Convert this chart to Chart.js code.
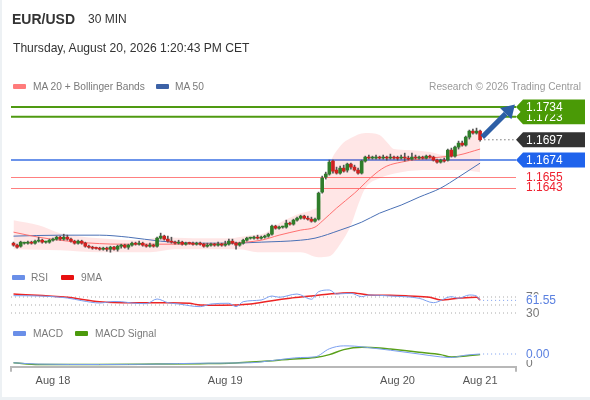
<!DOCTYPE html>
<html>
<head>
<meta charset="utf-8">
<script src="https://cdn.jsdelivr.net/npm/chart.js@4.4.1/dist/chart.umd.min.js"></script>
<style>
  body { margin: 0; background: #fff; }
  #frame { position: absolute; left: 0; top: 0; width: 588px; height: 397px; border-left: 2px solid #edf1f4; border-bottom: 3px solid #edf1f4; }
  canvas { position: absolute; left: 0; top: 0; }
  .t { position: absolute; white-space: nowrap; font-family: "Liberation Sans", Arial, sans-serif; color: #333; }
  .lg { font-size: 10.2px; line-height: 13px; color: #7a7a7a; }
  .sw { position: absolute; width: 13px; height: 5px; border-radius: 1px; }
</style>
</head>
<body>
<div id="frame"></div>
<canvas id="main" width="590" height="400"></canvas>
<canvas id="rsi" width="590" height="400"></canvas>
<canvas id="macd" width="590" height="400"></canvas>

<div class="t" style="left:12px;top:11px;font-weight:bold;font-size:14px;line-height:16px;">EUR/USD</div>
<div class="t" style="left:88px;top:12px;font-size:12px;line-height:14px;">30 MIN</div>
<div class="t" style="left:13px;top:41px;font-size:12.1px;line-height:15px;">Thursday, August 20, 2026 1:20:43 PM CET</div>

<div class="sw" style="left:13px;top:84px;background:#ff7b7b;"></div>
<div class="t lg" style="left:33px;top:80px;">MA 20 + Bollinger Bands</div>
<div class="sw" style="left:156px;top:84px;background:#3c62a6;"></div>
<div class="t lg" style="left:175px;top:80px;">MA 50</div>
<div class="t lg" style="right:9px;top:80px;color:#9a9a9a;">Research © 2026 Trading Central</div>

<div class="sw" style="left:12px;top:275px;background:#6a8fe8;"></div>
<div class="t lg" style="left:31px;top:271px;">RSI</div>
<div class="sw" style="left:61px;top:275px;background:#e81010;"></div>
<div class="t lg" style="left:81px;top:271px;">9MA</div>

<div class="sw" style="left:13px;top:331px;background:#6a8fe8;"></div>
<div class="t lg" style="left:33px;top:327px;">MACD</div>
<div class="sw" style="left:75px;top:331px;background:#4c9a0c;"></div>
<div class="t lg" style="left:95px;top:327px;">MACD Signal</div>

<script>
// 30-minute candles: [open, high, low, close]
const candles = [
  [1.15800,1.15812,1.15766,1.15778],[1.15778,1.15789,1.15744,1.15755],[1.15766,1.15823,1.15755,1.15812],
  [1.15800,1.15812,1.15789,1.15803],[1.15800,1.15823,1.15789,1.15812],[1.15812,1.15823,1.15789,1.15800],
  [1.15800,1.15834,1.15789,1.15823],[1.15823,1.15868,1.15812,1.15834],[1.15834,1.15846,1.15800,1.15812],
  [1.15812,1.15823,1.15800,1.15815],[1.15812,1.15846,1.15800,1.15834],[1.15834,1.15857,1.15823,1.15846],
  [1.15846,1.15880,1.15834,1.15868],[1.15868,1.15880,1.15834,1.15846],[1.15846,1.15902,1.15834,1.15868],
  [1.15868,1.15891,1.15834,1.15846],[1.15846,1.15857,1.15812,1.15823],[1.15823,1.15834,1.15789,1.15800],
  [1.15800,1.15834,1.15789,1.15823],[1.15823,1.15834,1.15789,1.15800],[1.15800,1.15812,1.15755,1.15766],
  [1.15766,1.15778,1.15744,1.15755],[1.15755,1.15766,1.15732,1.15744],[1.15744,1.15755,1.15732,1.15741],
  [1.15744,1.15755,1.15721,1.15732],[1.15732,1.15755,1.15721,1.15744],[1.15744,1.15755,1.15710,1.15732],
  [1.15732,1.15766,1.15698,1.15755],[1.15755,1.15766,1.15721,1.15732],[1.15732,1.15778,1.15710,1.15766],
  [1.15766,1.15789,1.15744,1.15778],[1.15778,1.15789,1.15744,1.15755],[1.15755,1.15789,1.15732,1.15778],
  [1.15778,1.15812,1.15766,1.15800],[1.15800,1.15812,1.15778,1.15789],[1.15789,1.15823,1.15778,1.15800],
  [1.15800,1.15812,1.15766,1.15778],[1.15778,1.15789,1.15755,1.15766],[1.15766,1.15800,1.15755,1.15778],
  [1.15778,1.15789,1.15755,1.15766],[1.15766,1.15868,1.15755,1.15857],[1.15857,1.15914,1.15846,1.15880],
  [1.15880,1.15891,1.15834,1.15846],[1.15846,1.15880,1.15812,1.15823],[1.15823,1.15868,1.15800,1.15812],
  [1.15812,1.15823,1.15789,1.15800],[1.15800,1.15834,1.15789,1.15812],[1.15812,1.15823,1.15778,1.15789],
  [1.15789,1.15812,1.15778,1.15800],[1.15800,1.15812,1.15789,1.15797],[1.15800,1.15812,1.15778,1.15789],
  [1.15789,1.15812,1.15778,1.15800],[1.15800,1.15812,1.15778,1.15789],[1.15789,1.15800,1.15755,1.15766],
  [1.15766,1.15800,1.15755,1.15778],[1.15778,1.15800,1.15766,1.15789],[1.15789,1.15800,1.15766,1.15778],
  [1.15778,1.15812,1.15766,1.15789],[1.15789,1.15800,1.15766,1.15778],[1.15778,1.15823,1.15766,1.15789],
  [1.15789,1.15846,1.15778,1.15823],[1.15823,1.15846,1.15789,1.15800],[1.15800,1.15812,1.15732,1.15778],
  [1.15778,1.15812,1.15766,1.15800],[1.15800,1.15846,1.15789,1.15834],[1.15834,1.15868,1.15823,1.15857],
  [1.15857,1.15868,1.15846,1.15860],[1.15857,1.15880,1.15846,1.15868],[1.15868,1.15891,1.15846,1.15857],
  [1.15857,1.15880,1.15846,1.15868],[1.15868,1.15891,1.15857,1.15880],[1.15880,1.15914,1.15868,1.15902],
  [1.15902,1.16004,1.15891,1.15993],[1.15993,1.16004,1.15959,1.15970],[1.15970,1.15993,1.15959,1.15982],
  [1.15982,1.15993,1.15970,1.15985],[1.15982,1.16061,1.15970,1.16027],[1.16027,1.16038,1.16004,1.16016],
  [1.16016,1.16072,1.16004,1.16061],[1.16061,1.16095,1.16049,1.16083],[1.16083,1.16117,1.16072,1.16106],
  [1.16106,1.16117,1.16072,1.16083],[1.16083,1.16106,1.16061,1.16072],[1.16072,1.16095,1.16038,1.16049],
  [1.16049,1.16083,1.16038,1.16072],[1.16072,1.16378,1.16061,1.16366],[1.16378,1.16559,1.16366,1.16536],
  [1.16548,1.16604,1.16525,1.16582],[1.16582,1.16740,1.16570,1.16717],[1.16729,1.16740,1.16593,1.16615],
  [1.16627,1.16661,1.16582,1.16593],[1.16593,1.16672,1.16582,1.16649],[1.16649,1.16683,1.16604,1.16615],
  [1.16627,1.16706,1.16604,1.16695],[1.16695,1.16706,1.16638,1.16661],[1.16661,1.16683,1.16615,1.16627],
  [1.16627,1.16649,1.16582,1.16593],[1.16593,1.16740,1.16582,1.16729],[1.16729,1.16785,1.16717,1.16774],
  [1.16774,1.16797,1.16751,1.16763],[1.16763,1.16785,1.16751,1.16766],[1.16763,1.16797,1.16751,1.16774],
  [1.16774,1.16785,1.16751,1.16763],[1.16763,1.16797,1.16751,1.16774],[1.16774,1.16785,1.16740,1.16763],
  [1.16763,1.16808,1.16751,1.16774],[1.16774,1.16785,1.16751,1.16763],[1.16763,1.16785,1.16740,1.16760],
  [1.16763,1.16797,1.16751,1.16774],[1.16774,1.16819,1.16729,1.16763],[1.16763,1.16785,1.16740,1.16751],
  [1.16751,1.16819,1.16740,1.16774],[1.16774,1.16797,1.16751,1.16763],[1.16763,1.16785,1.16751,1.16774],
  [1.16774,1.16785,1.16751,1.16763],[1.16763,1.16797,1.16751,1.16785],[1.16785,1.16797,1.16763,1.16774],
  [1.16774,1.16785,1.16729,1.16740],[1.16740,1.16751,1.16706,1.16717],[1.16717,1.16751,1.16706,1.16740],
  [1.16740,1.16763,1.16717,1.16729],[1.16740,1.16865,1.16729,1.16853],[1.16853,1.16876,1.16774,1.16785],
  [1.16785,1.16898,1.16774,1.16887],[1.16887,1.16955,1.16865,1.16932],[1.16932,1.16955,1.16898,1.16910],
  [1.16910,1.17012,1.16898,1.17000],[1.17000,1.17080,1.16978,1.17068],[1.17068,1.17091,1.17034,1.17046],
  [1.17046,1.17102,1.17034,1.17068],[1.17068,1.17080,1.16955,1.16970]
];

// indicator readings: [candle index, value]
const bandUpper = [[0,1.16061],[7,1.16004],[13,1.15914],[18,1.15880],[24,1.15857],[35,1.15834],[41,1.15868],
  [50,1.15857],[60,1.15857],[66,1.15891],[70,1.15914],[74,1.16027],[80,1.16140],[83,1.16174],[85,1.16231],
  [87,1.16514],[88,1.16683],[91,1.16898],[94,1.16989],[98,1.17046],[102,1.17023],[104,1.16944],[106,1.16865],
  [110,1.16853],[116,1.16831],[120,1.16797],[123,1.16853],[126,1.16966],[130,1.17080]];
const bandLower = [[0,1.15732],[13,1.15721],[24,1.15698],[38,1.15698],[45,1.15732],[63,1.15732],[68,1.15698],
  [80,1.15698],[85,1.15642],[88,1.15653],[91,1.15789],[94,1.16004],[96,1.16231],[98,1.16423],[102,1.16536],
  [108,1.16604],[116,1.16627],[124,1.16627],[130,1.16604]];
const ma20 = [[0,1.15925],[7,1.15868],[18,1.15812],[30,1.15789],[45,1.15789],[60,1.15800],[69,1.15834],
  [74,1.15891],[80,1.15948],[84,1.15982],[86,1.16049],[90,1.16197],[95,1.16366],[101,1.16593],[104,1.16672],
  [108,1.16717],[113,1.16751],[119,1.16774],[124,1.16797],[130,1.16865]];
const ma50 = [[0,1.15880],[13,1.15891],[24,1.15891],[32,1.15868],[41,1.15823],[52,1.15800],[60,1.15800],
  [69,1.15812],[80,1.15834],[84,1.15857],[91,1.15948],[97,1.16038],[102,1.16140],[108,1.16231],[113,1.16321],
  [119,1.16423],[124,1.16548],[130,1.16706]];
const rsi = [[0,73.3],[7,72.5],[15,67.5],[19,60.8],[24,55],[28,58.8],[30,58.3],[33,55],[37,53.3],[40,65],
  [43,55.8],[46,52.5],[52,45.8],[55,52.5],[60,54.3],[62,45.8],[64,58.3],[69,62.5],[72,72.5],[74,69.3],
  [79,77.5],[83,64.3],[85,83.3],[88,87.5],[90,77.5],[94,79.3],[97,70.8],[99,75],[105,72.5],[113,66.8],
  [117,55.8],[122,70.8],[124,66.8],[127,75],[129,72.5],[130,61.55]];
const rsiMa = [[0,77.5],[15,69.3],[24,58.3],[33,55.8],[43,55.8],[49,54.3],[52,50],[58,49.3],[66,52.5],
  [72,60.8],[77,66.8],[83,72.5],[88,77.5],[94,80.8],[99,75],[105,74.3],[110,72.5],[116,69.3],[119,62.5],
  [124,66.8],[129,69.3],[130,62.5]];
const macd = [[0,0.00005],[7,-0.000025],[24,-0.00005],[40,-0.000025],[52,0.000025],[66,0.00005],[73,0.0002],
  [80,0.00035],[84,0.000385],[88,0.00085],[92,0.001015],[95,0.001],[99,0.000915],[105,0.000765],
  [113,0.00055],[119,0.000385],[122,0.00035],[126,0.000485],[130,0.00055]];
const macdSignal = [[0,0.00005],[7,-0.00005],[24,-0.00005],[40,-0.000025],[52,0],[60,0.000025],[69,0.000125],
  [77,0.00025],[84,0.00035],[88,0.000515],[92,0.0008],[97,0.000935],[102,0.0009],[105,0.000835],
  [113,0.00065],[119,0.000515],[122,0.000385],[126,0.000435],[130,0.000515]];

const dayTicks = [11, 59, 107, 130];
const dayLabels = ["Aug 18", "Aug 19", "Aug 20", "Aug 21"];
const resistances = [1.1723, 1.1734];
const pivot = 1.1674;
const supports = [1.1655, 1.1643];
const lastPrice = 1.1697;
const arrowFrom = [130.6, 1.1700];
const arrowTo = [139.7, 1.1737];
const rsiLevels = [70, 50, 30];

const FONT = '"Liberation Sans", Arial, sans-serif';
const pts = arr => arr.map(([x, y]) => ({ x, y }));
const lastRsi = rsi[rsi.length - 1];
const lastMacd = macd[macd.length - 1];

function hline(ctx, area, py, color, width, dash) {
  ctx.save();
  ctx.strokeStyle = color;
  ctx.lineWidth = width;
  ctx.setLineDash(dash || []);
  ctx.beginPath();
  ctx.moveTo(area.left, py);
  ctx.lineTo(area.right, py);
  ctx.stroke();
  ctx.restore();
}

function tag(ctx, x0, py, text, bg) {
  const h = 15, x1 = 585;
  ctx.fillStyle = bg;
  ctx.beginPath();
  ctx.moveTo(x0, py);
  ctx.lineTo(x0 + 7, py - h / 2);
  ctx.lineTo(x1, py - h / 2);
  ctx.lineTo(x1, py + h / 2);
  ctx.lineTo(x0 + 7, py + h / 2);
  ctx.closePath();
  ctx.fill();
  ctx.fillStyle = "#fff";
  ctx.font = "12px " + FONT;
  ctx.textBaseline = "middle";
  ctx.fillText(text, x0 + 10, py + 0.5);
}

function sideLabel(ctx, x0, py, text, color, cover) {
  ctx.font = "12px " + FONT;
  ctx.textBaseline = "middle";
  if (cover) {
    ctx.fillStyle = "#fff";
    ctx.fillRect(x0 + 6, py - 6, ctx.measureText(text).width + 6, 12);
  }
  ctx.fillStyle = color;
  ctx.fillText(text, x0 + 10, py + 0.5);
}

const mainOverlay = {
  id: "mainOverlay",
  beforeDatasetsDraw(chart) {
    const { ctx, chartArea: a, scales: { y } } = chart;
    resistances.forEach(v => hline(ctx, a, y.getPixelForValue(v), "#4f9a12", 2));
    hline(ctx, a, y.getPixelForValue(pivot), "#6b93ea", 2);
    supports.forEach(v => hline(ctx, a, Math.round(y.getPixelForValue(v)) + 0.5, "#ff7f7f", 1));
  },
  afterDraw(chart) {
    const { ctx, chartArea: a, scales: { x, y } } = chart;
    const py = y.getPixelForValue(lastPrice);
    ctx.save();
    ctx.strokeStyle = "#777";
    ctx.setLineDash([1.5, 2.5]);
    ctx.beginPath();
    ctx.moveTo(x.getPixelForValue(candles.length - 1) + 4, py);
    ctx.lineTo(a.right, py);
    ctx.stroke();
    ctx.setLineDash([]);

    // forecast arrow
    const x0 = x.getPixelForValue(arrowFrom[0]), y0 = y.getPixelForValue(arrowFrom[1]);
    const x1 = x.getPixelForValue(arrowTo[0]), y1 = y.getPixelForValue(arrowTo[1]);
    const len = Math.hypot(x1 - x0, y1 - y0), ux = (x1 - x0) / len, uy = (y1 - y0) / len;
    const bx = x1 - ux * 13, by = y1 - uy * 13;
    ctx.strokeStyle = "#2d5fa6";
    ctx.fillStyle = "#2d5fa6";
    ctx.lineWidth = 5;
    ctx.beginPath();
    ctx.moveTo(x0, y0);
    ctx.lineTo(bx, by);
    ctx.stroke();
    ctx.beginPath();
    ctx.moveTo(x1, y1);
    ctx.lineTo(bx - uy * 8, by + ux * 8);
    ctx.lineTo(bx + uy * 8, by - ux * 8);
    ctx.closePath();
    ctx.fill();

    tag(ctx, a.right, y.getPixelForValue(resistances[0]), resistances[0].toFixed(4), "#4a9a06");
    tag(ctx, a.right, y.getPixelForValue(resistances[1]), resistances[1].toFixed(4), "#4a9a06");
    tag(ctx, a.right, py, lastPrice.toFixed(4), "#333");
    tag(ctx, a.right, y.getPixelForValue(pivot), pivot.toFixed(4), "#1f63ec");
    supports.forEach(v => sideLabel(ctx, a.right, y.getPixelForValue(v), v.toFixed(4), "#ee2230"));
    ctx.restore();
  }
};

const rsiOverlay = {
  id: "rsiOverlay",
  beforeDatasetsDraw(chart) {
    const { ctx, chartArea: a, scales: { y } } = chart;
    rsiLevels.forEach(v => hline(ctx, a, y.getPixelForValue(v), "#aaa", 1, [1, 3]));
  },
  afterDraw(chart) {
    const { ctx, chartArea: a, scales: { x, y } } = chart;
    const py = y.getPixelForValue(lastRsi[1]);
    ctx.save();
    ctx.strokeStyle = "#7b9ff0";
    ctx.setLineDash([1, 3]);
    ctx.beginPath();
    ctx.moveTo(x.getPixelForValue(lastRsi[0]) + 3, py);
    ctx.lineTo(a.right, py);
    ctx.stroke();
    ctx.setLineDash([]);
    sideLabel(ctx, a.right, y.getPixelForValue(70), "70", "#777");
    sideLabel(ctx, a.right, y.getPixelForValue(30), "30", "#777");
    sideLabel(ctx, a.right, py, lastRsi[1].toFixed(2), "#5a80e0", true);
    ctx.restore();
  }
};

const macdOverlay = {
  id: "macdOverlay",
  afterDraw(chart) {
    const { ctx, chartArea: a, scales: { x, y } } = chart;
    const py = y.getPixelForValue(lastMacd[1]);
    ctx.save();
    // axis end caps
    ctx.strokeStyle = "#b8b8b8";
    ctx.lineWidth = 2;
    [a.left, a.right].forEach(px => {
      ctx.beginPath();
      ctx.moveTo(px, a.bottom);
      ctx.lineTo(px, a.bottom + 5);
      ctx.stroke();
    });
    ctx.lineWidth = 1;
    ctx.strokeStyle = "#7b9ff0";
    ctx.setLineDash([1, 3]);
    ctx.beginPath();
    ctx.moveTo(x.getPixelForValue(lastMacd[0]) + 3, py);
    ctx.lineTo(a.right, py);
    ctx.stroke();
    ctx.setLineDash([]);
    sideLabel(ctx, a.right, y.getPixelForValue(0), "0", "#777");
    sideLabel(ctx, a.right, py, lastMacd[1].toFixed(2), "#5a80e0", true);
    ctx.restore();
  }
};

const hiddenX = { type: "linear", min: -0.7, max: 140, offset: false, display: false };
const common = { responsive: false, animation: false, plugins: { legend: { display: false }, tooltip: { enabled: false } } };
const lineSet = (data, color, width, order) => ({
  type: "line", data: pts(data), borderColor: color, borderWidth: width, pointRadius: 0,
  cubicInterpolationMode: "monotone", fill: false, order
});

new Chart(document.getElementById("main"), {
  type: "bar",
  data: {
    datasets: [
      {
        type: "bar", order: 1, grouped: false, barThickness: 3, minBarLength: 1,
        data: candles.map((c, i) => ({ x: i, y: [c[0], c[3]] })),
        backgroundColor: candles.map(c => c[3] >= c[0] ? "#2f7d2b" : "#d0211f")
      },
      {
        type: "bar", order: 2, grouped: false, barThickness: 1, minBarLength: 1,
        data: candles.map((c, i) => ({ x: i, y: [c[2], c[1]] })),
        backgroundColor: "#555"
      },
      lineSet(ma20, "rgba(255,105,105,0.95)", 1, 3),
      lineSet(ma50, "#4a70b5", 1, 4),
      { ...lineSet(bandUpper, "rgba(0,0,0,0)", 0, 5) },
      { ...lineSet(bandLower, "rgba(0,0,0,0)", 0, 6), fill: "-1", backgroundColor: "rgba(255,60,60,0.13)" }
    ]
  },
  options: {
    ...common,
    layout: { padding: { left: 11, right: 74, top: 100, bottom: 140 } },
    scales: {
      x: hiddenX,
      y: { type: "linear", min: 1.1561, max: 1.1742, display: false }
    }
  },
  plugins: [mainOverlay]
});

new Chart(document.getElementById("rsi"), {
  type: "line",
  data: {
    datasets: [
      lineSet(rsiMa, "#ec2424", 1.5, 2),
      lineSet(rsi, "#7b9ff0", 1, 1)
    ]
  },
  options: {
    ...common,
    layout: { padding: { left: 11, right: 74, top: 286, bottom: 82 } },
    scales: {
      x: hiddenX,
      y: { type: "linear", min: 17.5, max: 97.5, display: false }
    }
  },
  plugins: [rsiOverlay]
});

new Chart(document.getElementById("macd"), {
  type: "line",
  data: {
    datasets: [
      lineSet(macdSignal, "#5aa01a", 1.5, 2),
      lineSet(macd, "#7b9ff0", 1, 1)
    ]
  },
  options: {
    ...common,
    layout: { padding: { left: 11, right: 74, top: 340, bottom: 8 } },
    scales: {
      x: {
        type: "linear", min: -0.7, max: 140, offset: false,
        afterBuildTicks: s => { s.ticks = dayTicks.map(v => ({ value: v })); },
        ticks: {
          autoSkip: false, maxRotation: 0, padding: 4, color: "#555",
          font: { size: 11, family: FONT },
          callback: (v, i) => dayLabels[i]
        },
        grid: { display: true, drawOnChartArea: false, tickLength: 4, color: "rgba(0,0,0,0)" },
        border: { display: true, color: "#b8b8b8", width: 2 }
      },
      y: { type: "linear", min: -0.00018, max: 0.00135, display: false }
    }
  },
  plugins: [macdOverlay]
});
</script>
</body>
</html>
